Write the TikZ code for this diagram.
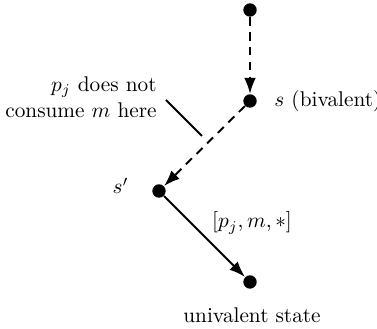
\documentclass[tikz,border=0pt]{standalone}
\usetikzlibrary{arrows.meta}
\begin{document}
\begin{tikzpicture}[x=0.47pt,y=-0.47pt,
  dot/.style={circle,fill=black,inner sep=0pt,minimum size=6.3pt},
  arr/.style={-{Latex[length=7.5pt,width=5.5pt]},line width=0.9pt},
  dsh/.style={dash pattern=on 4pt off 3pt}]
\useasboundingbox (0,0) rectangle (377,329);
\node[dot] (top) at (250,10) {};
\node[dot] (s) at (250,101) {};
\node[dot] (sp) at (159,191) {};
\node[dot] (u) at (250,282) {};
\node[anchor=west,inner sep=0pt] (sl) at (274,101) {$s$ (bivalent)};
\node[anchor=east,inner sep=0pt] (spl) at (129,186) {$s'$};
\node[inner sep=0pt] (el) at (252,223) {$[p_j,m,*]$};
\node[inner sep=0pt] (ul) at (252,315) {univalent state};
\node[anchor=east,align=right,inner sep=0pt] (note) at (157,97) {$p_j$ does not\\consume $m$ here};
\coordinate (n1) at (166,100);
\coordinate (n2) at (202,136);
\draw[arr,dsh] (top) -- (s);
\draw[arr,dsh] (s) -- (sp);
\draw[arr] (sp) -- (u);
\draw[line width=0.9pt] (n1) -- (n2);
\end{tikzpicture}
\end{document}
